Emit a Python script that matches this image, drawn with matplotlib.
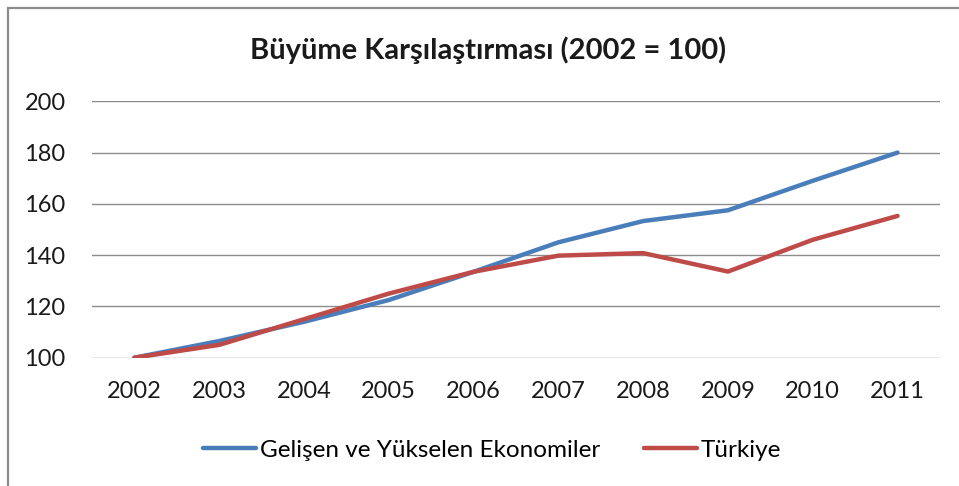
import matplotlib
matplotlib.use("Agg")
import matplotlib.pyplot as plt
from matplotlib.patches import Rectangle

years = ["2002", "2003", "2004", "2005", "2006", "2007", "2008", "2009", "2010", "2011"]
emerging = [100, 106.5, 114, 122.5, 133.5, 145, 153.3, 157.5, 169, 180]
turkey = [100, 105, 115, 125, 133.5, 139.8, 140.8, 133.6, 146, 155.3]
yticks = [100, 120, 140, 160, 180, 200]

plt.rcParams['font.family'] = ['Lato', 'DejaVu Sans']

fig = plt.figure(figsize=(9.59, 4.86), dpi=100)
fig.patches.append(Rectangle((8/959, -0.1), 1.2, 1 - 8/486 + 0.1, transform=fig.transFigure,
                             fill=False, edgecolor='#8c8c8c', linewidth=1.6, zorder=0))

ax = fig.add_axes([92/959, 1 - 357.7/486, (940 - 92)/959, (357.7 - 101.3)/486])
x = list(range(len(years)))
ax.plot(x, emerging, color='#4A7EBB', linewidth=3.2, label='Gelişen ve Yükselen Ekonomiler',
        solid_capstyle='round', zorder=3)
ax.plot(x, turkey, color='#BE4B48', linewidth=3.2, label='Türkiye',
        solid_capstyle='round', zorder=4)

ax.set_xlim(-0.5, len(years) - 0.5)
ax.set_ylim(100, 200)
ax.set_yticks(yticks)
ax.set_xticks(x)
ax.set_xticklabels(years)
ax.grid(axis='y', color='#8c8c8c', linewidth=1.0)
ax.set_axisbelow(True)
for s in ax.spines.values():
    s.set_visible(False)
ax.tick_params(axis='both', length=0, labelsize=17, colors='#1a1a1a')
ax.tick_params(axis='y', pad=19)
ax.tick_params(axis='x', pad=17)

fig.text(488/959, 1 - 50/486, 'Büyüme Karşılaştırması (2002 = 100)', ha='center', va='center',
         fontsize=21, fontweight='bold', color='#1a1a1a')

fig.legend(loc='center', bbox_to_anchor=(492/959, 1 - 450/486), ncol=2, frameon=False,
           fontsize=17.5, handlelength=2.2, handletextpad=0.15, columnspacing=1.8)

fig.savefig('out.png', dpi=100, facecolor='white')
